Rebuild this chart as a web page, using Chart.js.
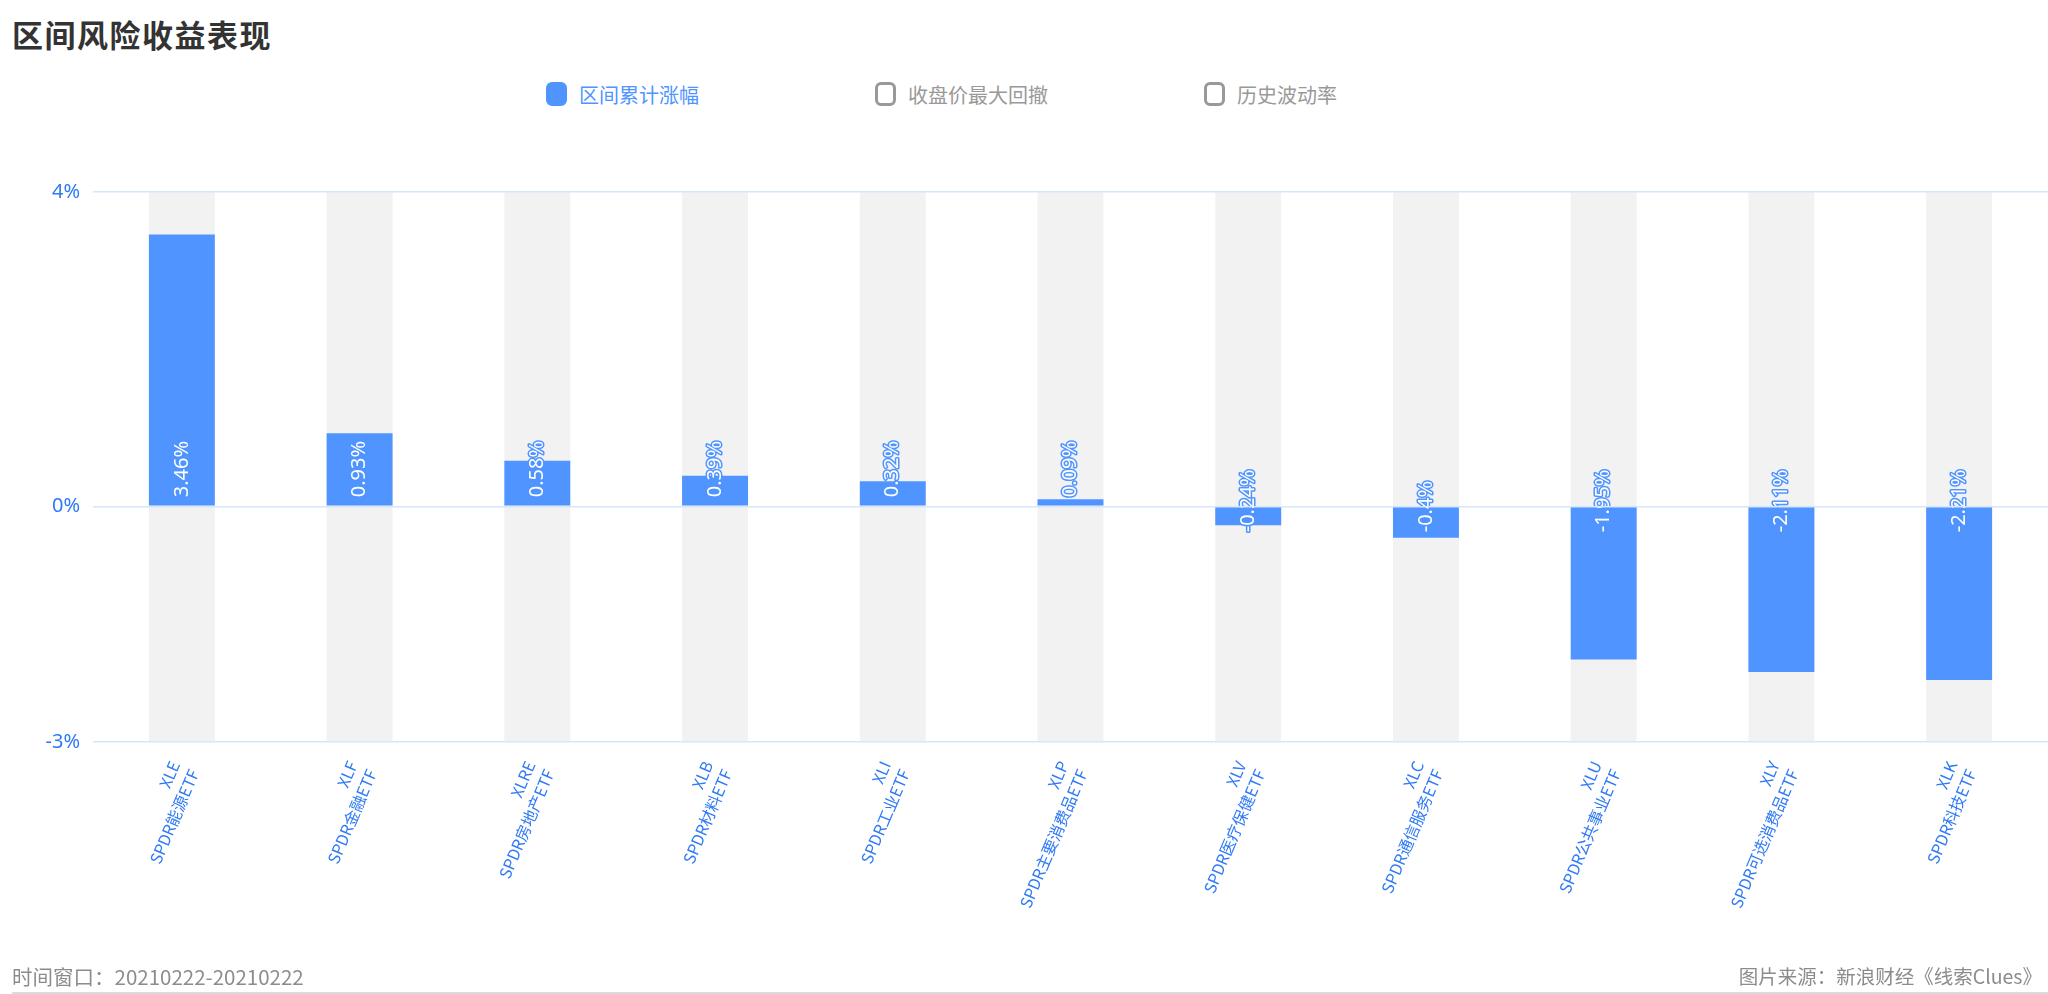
<!DOCTYPE html>
<html lang="zh-CN">
<head>
<meta charset="utf-8">
<title>区间风险收益表现</title>
<script src="https://cdn.jsdelivr.net/npm/chart.js@4.4.1/dist/chart.umd.min.js"></script>
<style>
    html, body { margin: 0; padding: 0; background: #fff; }
    body { width: 2048px; height: 994px; position: relative; overflow: hidden; font-family: "Noto Sans CJK SC", "Noto Sans", sans-serif; }
    #wrap { position: absolute; left: 0; top: 0; width: 2048px; height: 994px; }
    h1 { position: absolute; left: 12px; top: 12px; margin: 0; font-size: 31px; line-height: 44px; font-weight: bold; color: #333; letter-spacing: 1.5px; }
    .legend { position: absolute; left: 546px; top: 80px; display: flex; }
    .item { width: 329px; height: 28px; display: flex; align-items: center; font-size: 20px; color: #999; }
    .item .box { width: 21px; height: 24px; box-sizing: border-box; border: 3px solid #999; border-radius: 6px; margin-right: 12px; background: #fff; }
    .item.on { color: #4f94ff; }
    .item.on .box { border-color: #4f94ff; background: #4f94ff; }
    .foot { position: absolute; top: 962px; font-size: 19.5px; line-height: 28px; color: #8c8c8c; }
    .foot.left { left: 12px; font-size: 20.5px; }
    .foot.right { right: 6px; }
    .rule { position: absolute; left: 12px; right: 0; top: 992px; height: 2px; background: #dcdcdc; }
</style>
</head>
<body>
<h1>区间风险收益表现</h1>
<div class="legend" id="legend"></div>
<div id="wrap"><canvas id="chart"></canvas></div>
<div class="foot left">时间窗口：20210222-20210222</div>
<div class="foot right">图片来源：新浪财经《线索Clues》</div>
<div class="rule"></div>

<script>
    const tickers = ['XLE', 'XLF', 'XLRE', 'XLB', 'XLI', 'XLP', 'XLV', 'XLC', 'XLU', 'XLY', 'XLK'];
    const fundNames = ['SPDR能源ETF', 'SPDR金融ETF', 'SPDR房地产ETF', 'SPDR材料ETF', 'SPDR工业ETF',
        'SPDR主要消费品ETF', 'SPDR医疗保健ETF', 'SPDR通信服务ETF', 'SPDR公共事业ETF',
        'SPDR可选消费品ETF', 'SPDR科技ETF'];
    const cumulativeReturn = [3.46, 0.93, 0.58, 0.39, 0.32, 0.09, -0.24, -0.4, -1.95, -2.11, -2.21];
    const yTicks = [-3, 0, 4];
    const seriesNames = ['区间累计涨幅', '收盘价最大回撤', '历史波动率'];
    const activeSeries = [true, false, false];

    const BLUE = '#4f94ff';
    const AXIS_BLUE = '#2f7af5';

    // legend (only the first series is switched on)
    const legend = document.getElementById('legend');
    seriesNames.forEach((name, i) => {
        const item = document.createElement('div');
        item.className = 'item' + (activeSeries[i] ? ' on' : '');
        const box = document.createElement('span');
        box.className = 'box';
        item.appendChild(box);
        item.appendChild(document.createTextNode(name));
        legend.appendChild(item);
    });

    const labels = tickers.map((t, i) => [t, fundNames[i]]);
    const shadow = tickers.map(() => [yTicks[0], yTicks[yTicks.length - 1]]);

    // white labels with a blue outline, rotated, sitting on the zero line
    const valueLabels = {
        id: 'valueLabels',
        afterDatasetsDraw(chart) {
            const meta = chart.getDatasetMeta(1);
            const zero = chart.scales.y.getPixelForValue(0);
            const ctx = chart.ctx;
            ctx.save();
            ctx.font = '20px "Noto Sans"';
            ctx.textAlign = 'left';
            ctx.textBaseline = 'middle';
            ctx.lineJoin = 'round';
            meta.data.forEach((bar, i) => {
                const v = cumulativeReturn[i];
                const txt = v + '%';
                ctx.save();
                ctx.translate(bar.x, v >= 0 ? zero - 9 : zero + 26);
                ctx.rotate(-Math.PI / 2);
                ctx.strokeStyle = BLUE;
                ctx.lineWidth = 3;
                ctx.strokeText(txt, 0, 0);
                ctx.fillStyle = '#fff';
                ctx.fillText(txt, 0, 0);
                ctx.restore();
            });
            ctx.restore();
        }
    };

    new Chart(document.getElementById('chart'), {
        type: 'bar',
        data: {
            labels: labels,
            datasets: [
                {
                    label: 'shadow',
                    data: shadow,
                    backgroundColor: '#f2f2f2',
                    grouped: false,
                    order: 2,
                    barPercentage: 0.371,
                    categoryPercentage: 1
                },
                {
                    label: seriesNames[0],
                    data: cumulativeReturn,
                    backgroundColor: BLUE,
                    grouped: false,
                    order: 1,
                    barPercentage: 0.371,
                    categoryPercentage: 1
                }
            ]
        },
        options: {
            responsive: true,
            maintainAspectRatio: false,
            animation: false,
            layout: { padding: { top: 192, left: 0, right: 0, bottom: 0 } },
            plugins: {
                legend: { display: false },
                tooltip: { enabled: false }
            },
            scales: {
                x: {
                    grid: { display: false },
                    border: { display: false },
                    ticks: {
                        color: AXIS_BLUE,
                        font: { size: 16, family: '"Noto Sans CJK SC"', lineHeight: 1.3 },
                        minRotation: 67,
                        maxRotation: 67,
                        autoSkip: false,
                        padding: 8,
                        labelOffset: -7
                    },
                    afterFit(scale) {
                        scale.height = 994 - 742;
                        scale.paddingLeft = 0;
                        scale.paddingRight = 0;
                    }
                },
                y: {
                    min: yTicks[0],
                    max: yTicks[yTicks.length - 1],
                    afterBuildTicks(scale) {
                        scale.ticks = yTicks.map(v => ({ value: v }));
                    },
                    afterFit(scale) {
                        scale.width = 93;
                    },
                    grid: { color: '#d6e7fc', lineWidth: 1.5, drawTicks: false, z: 1 },
                    border: { display: false },
                    ticks: {
                        color: AXIS_BLUE,
                        font: { size: 20, family: '"Noto Sans"' },
                        padding: 13,
                        callback: v => v + '%'
                    }
                }
            }
        },
        plugins: [valueLabels]
    });
</script>
</body>
</html>
